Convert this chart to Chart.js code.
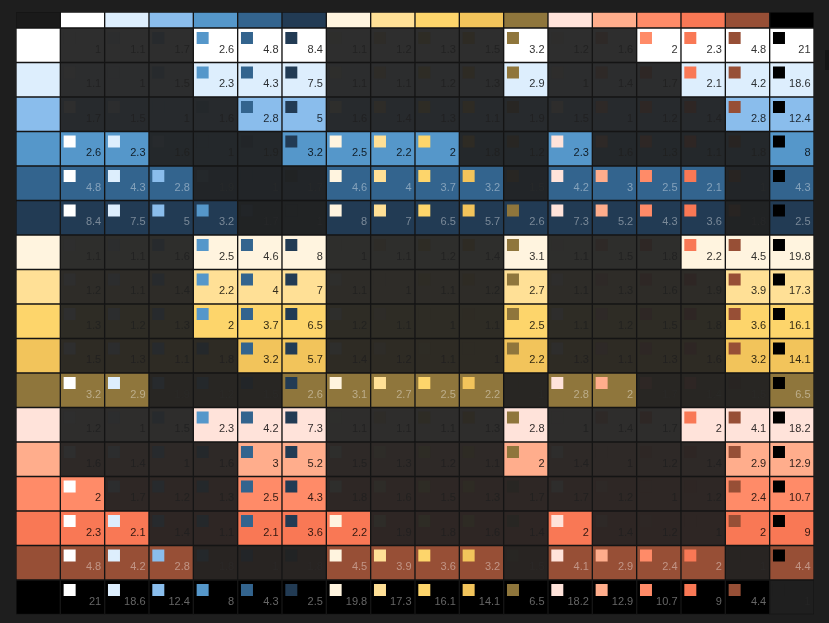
<!DOCTYPE html>
<html><head><meta charset="utf-8">
<script src="https://cdn.jsdelivr.net/npm/chart.js@4.4.1/dist/chart.umd.min.js"></script>
<style>
html,body{margin:0;padding:0;background:#1e1e1e;overflow:hidden;}
#wrap{position:relative;width:829px;height:623px;}
#thumb{position:absolute;left:825px;top:50px;width:4px;height:20px;background:#151515;}
canvas{display:block;}
</style></head><body>
<div id="wrap"><canvas id="c" width="829" height="623"></canvas><div id="thumb"></div></div>
<script>
// Categories: the palette colours (rows and columns, same order)
const palette = ["#FFFFFF","#DDEEFD","#8ABDEC","#5597CA","#33648E","#223B54","#FFF4DF","#FFE096","#FDD56B","#F2C45B","#8F763C","#FFE3DA","#FFAD8C","#FF8B68","#F97855","#974F36","#000000"];

// Contrast ratios, one row per palette colour
const rWhite  = [1,1.1,1.7,2.6,4.8,8.4,1.1,1.2,1.3,1.5,3.2,1.2,1.6,2,2.3,4.8,21];
const rIce    = [1.1,1,1.5,2.3,4.3,7.5,1.1,1.1,1.2,1.3,2.9,1,1.4,1.7,2.1,4.2,18.6];
const rSky    = [1.7,1.5,1,1.6,2.8,5,1.6,1.4,1.3,1.1,1.9,1.5,1,1.2,1.4,2.8,12.4];
const rBlue   = [2.6,2.3,1.6,1,1.9,3.2,2.5,2.2,2,1.8,1.2,2.3,1.6,1.3,1.1,1.8,8];
const rNavy   = [4.8,4.3,2.8,1.9,1,1.7,4.6,4,3.7,3.2,1.5,4.2,3,2.5,2.1,1,4.3];
const rInk    = [8.4,7.5,5,3.2,1.7,1,8,7,6.5,5.7,2.6,7.3,5.2,4.3,3.6,1.8,2.5];
const rCream  = [1.1,1.1,1.6,2.5,4.6,8,1,1.1,1.2,1.4,3.1,1.1,1.5,1.8,2.2,4.5,19.8];
const rButter = [1.2,1.1,1.4,2.2,4,7,1.1,1,1.1,1.2,2.7,1.1,1.3,1.6,1.9,3.9,17.3];
const rYellow = [1.3,1.2,1.3,2,3.7,6.5,1.2,1.1,1,1.1,2.5,1.1,1.2,1.5,1.8,3.6,16.1];
const rGold   = [1.5,1.3,1.1,1.8,3.2,5.7,1.4,1.2,1.1,1,2.2,1.3,1.1,1.3,1.6,3.2,14.1];
const rOlive  = [3.2,2.9,1.9,1.2,1.5,2.6,3.1,2.7,2.5,2.2,1,2.8,2,1.7,1.4,1.5,6.5];
const rBlush  = [1.2,1,1.5,2.3,4.2,7.3,1.1,1.1,1.1,1.3,2.8,1,1.4,1.7,2,4.1,18.2];
const rPeach  = [1.6,1.4,1,1.6,3,5.2,1.5,1.3,1.2,1.1,2,1.4,1,1.2,1.4,2.9,12.9];
const rSalmon = [2,1.7,1.2,1.3,2.5,4.3,1.8,1.6,1.5,1.3,1.7,1.7,1.2,1,1.2,2.4,10.7];
const rCoral  = [2.3,2.1,1.4,1.1,2.1,3.6,2.2,1.9,1.8,1.6,1.4,2,1.4,1.2,1,2,9];
const rRust   = [4.8,4.2,2.8,1.8,1,1.8,4.5,3.9,3.6,3.2,1.5,4.1,2.9,2.4,2,1,4.4];
const rBlack  = [21,18.6,12.4,8,4.3,2.5,19.8,17.3,16.1,14.1,6.5,18.2,12.9,10.7,9,4.4,1];
const contrastRows = [rWhite,rIce,rSky,rBlue,rNavy,rInk,rCream,rButter,rYellow,rGold,rOlive,rBlush,rPeach,rSalmon,rCoral,rRust,rBlack];

const THRESHOLD = 2;
const N = palette.length;
const HEADER = 16/34.5;
const lightTextRows = new Set([4,5,10,15,16]);

function rgb(h){h=h.replace('#','');return [parseInt(h.slice(0,2),16),parseInt(h.slice(2,4),16),parseInt(h.slice(4,6),16)];}
function css(a){return 'rgb('+a.map(v=>Math.round(v)).join(',')+')';}
function dimArr(a){return a.map(v=>31+0.06*v);}
function colorFor(h, on){const a=rgb(h);return css(on?a:dimArr(a));}

const cellData=[], cellColors=[];
cellData.push({x:0.5,y:[-HEADER,0]}); cellColors.push('#1a1a1a');
for(let c=0;c<N;c++){cellData.push({x:c+1.5,y:[-HEADER,0]}); cellColors.push(palette[c]);}
const swData=[], swColors=[];
for(let r=0;r<N;r++){
  cellData.push({x:0.5,y:[r,r+1]}); cellColors.push(palette[r]);
  for(let c=0;c<N;c++){
    const on = contrastRows[r][c] >= THRESHOLD;
    cellData.push({x:c+1.5,y:[r,r+1]}); cellColors.push(colorFor(palette[r],on));
    swData.push({x:c+1+0.21,y:r+0.29}); swColors.push(colorFor(palette[c],on));
  }
}

const labelPlugin = {
  id:'cellLabels',
  afterDatasetsDraw(chart){
    const ctx=chart.ctx, xs=chart.scales.x, ys=chart.scales.y;
    ctx.save();
    ctx.font='11px "Liberation Sans", Arial, sans-serif';
    ctx.textAlign='right'; ctx.textBaseline='alphabetic';
    for(let r=0;r<N;r++){
      const bg=rgb(palette[r]);
      let t;
      if(lightTextRows.has(r)) t=bg.map(v=>v+0.4*(255-v));
      else t=bg.map(v=>v*0.2);
      for(let c=0;c<N;c++){
        const v=contrastRows[r][c];
        const on=v>=THRESHOLD;
        ctx.fillStyle=css(on?t:dimArr(t));
        ctx.fillText(String(v), xs.getPixelForValue(c+2)-3.5, ys.getPixelForValue(r+1)-10);
      }
    }
    ctx.restore();
  }
};

new Chart(document.getElementById('c'),{
  type:'bar',
  data:{datasets:[
    {type:'bar',data:cellData,backgroundColor:cellColors,borderColor:'#151515',borderWidth:1,borderSkipped:false,barPercentage:1,categoryPercentage:1,grouped:false,order:2},
    {type:'scatter',data:swData,pointStyle:'rect',pointRadius:12/Math.SQRT2,pointHoverRadius:12/Math.SQRT2,pointBackgroundColor:swColors,pointBorderWidth:0,borderWidth:0,showLine:false,order:1}
  ]},
  options:{
    responsive:false,animation:false,events:[],
    layout:{padding:{left:16,top:12,right:15,bottom:8}},
    plugins:{legend:{display:false},tooltip:{enabled:false}},
    scales:{
      x:{type:'linear',min:0,max:18,offset:false,display:false,ticks:{stepSize:1}},
      y:{type:'linear',min:-HEADER,max:17,reverse:true,display:false,offset:false,ticks:{stepSize:1}}
    }
  },
  plugins:[labelPlugin]
});
</script>
</body></html>
